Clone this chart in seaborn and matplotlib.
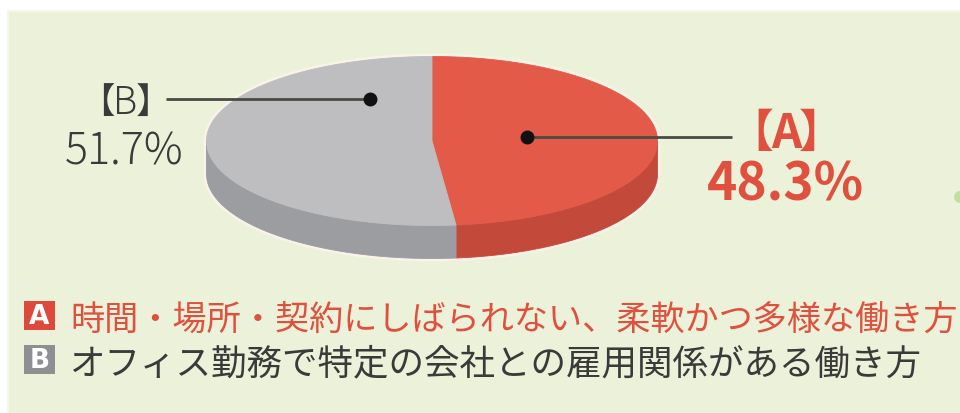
import numpy as np
import matplotlib
matplotlib.use("Agg")
import matplotlib.pyplot as plt
from matplotlib.patches import Polygon, Rectangle, Circle
import seaborn as sns

# --- data -------------------------------------------------------------
keys = ["A", "B"]
shares = [48.3, 51.7]
pct_labels = ["48.3%", "51.7%"]
legend_texts = [
    "時間・場所・契約にしばられない、柔軟かつ多様な働き方",
    "オフィス勤務で特定の会社との雇用関係がある働き方",
]
top_colors = ["#E35A48", "#BEBEC0"]
side_colors = ["#C3493A", "#9C9DA0"]
text_colors = ["#E0503F", "#3A3A3A"]
box_colors = ["#DD4A3C", "#8E8F93"]

sns.set_theme(style="white")
plt.rcParams["font.family"] = ["Noto Sans CJK JP", "DejaVu Sans"]

W, H = 960, 414
fig = plt.figure(figsize=(W / 100, H / 100), dpi=100)
fig.patch.set_facecolor("white")
ax = fig.add_axes([0, 0, 1, 1])
ax.set_xlim(0, W)
ax.set_ylim(H, 0)
ax.axis("off")

# panel background
ax.add_patch(Rectangle((8, 12), W, H, facecolor="#ECF2DA", edgecolor="#F4F8E8", lw=1.5, zorder=0))

# --- 3D-looking elliptical pie ------------------------------------------
cx, cy, rx, ry, depth = 432, 142, 225.5, 84.5, 33


def rim(t_deg, drop=0.0):
    t = np.radians(t_deg)
    return np.column_stack([cx + rx * np.cos(t), cy - ry * np.sin(t) + drop])


total = sum(shares)
spans = []
start = 90.0
for v in shares:
    sweep = 360.0 * v / total
    spans.append((start - sweep, start))
    start -= sweep

# soft light halo around the whole solid
outline = np.vstack([rim(np.linspace(0, 180, 200)), rim(np.linspace(180, 360, 200), depth)])
ax.add_patch(Polygon(outline, closed=True, facecolor="none", edgecolor="#FBF3EA", lw=4, zorder=1))

# side walls (visible front half: angles between -180 and 0)
for (lo, hi), col in zip(spans, side_colors):
    s_lo, s_hi = max(lo, -180.0), min(hi, 0.0)
    if s_hi <= s_lo:
        continue
    ts = np.linspace(s_lo, s_hi, 150)
    wall = np.vstack([rim(ts), rim(ts[::-1], depth)])
    ax.add_patch(Polygon(wall, closed=True, facecolor=col, edgecolor=col, lw=0.6, zorder=2))

# top faces
for (lo, hi), col in zip(spans, top_colors):
    ts = np.linspace(lo, hi, 300)
    face = np.vstack([[cx, cy], rim(ts)])
    ax.add_patch(Polygon(face, closed=True, facecolor=col, edgecolor=col, lw=0.6, zorder=3))

# --- leader lines and dots ----------------------------------------------
leaders = {
    "A": ((527, 138), (732, 138)),
    "B": ((370, 100), (166, 100)),
}
for k in keys:
    (x0, y0), (x1, y1) = leaders[k]
    ax.plot([x0, x1], [y0, y1], color="#4A4A45", lw=2, solid_capstyle="butt", zorder=4)
    ax.plot([x0], [y0], marker="o", ms=9, color="#111111", mec="#111111", zorder=5)


def bracket_label(xc, y, letter, size, color, weight, gap):
    px = size * 100 / 72
    half = 0.31 * px
    ax.text(xc, y, letter, ha="center", va="center", fontsize=size, color=color,
            fontweight=weight, zorder=6)
    ax.text(xc - half - gap, y, "【", ha="right", va="center", fontsize=size * 0.95,
            color=color, fontweight=weight, zorder=6)
    ax.text(xc + half + gap, y, "】", ha="left", va="center", fontsize=size * 0.95,
            color=color, fontweight=weight, zorder=6)


bracket_label(786, 134, keys[0], 34, text_colors[0], "bold", -2)
ax.text(785, 185, pct_labels[0], ha="center", va="center", fontsize=37,
        color=text_colors[0], fontweight="bold", zorder=6)

bracket_label(125, 103, keys[1], 27, text_colors[1], "light", -1)
ax.text(124, 152, pct_labels[1], ha="center", va="center", fontsize=31,
        color=text_colors[1], fontweight="light", zorder=6)

# --- legend -------------------------------------------------------------
row_sizes = [24.6, 25.6]
rows_y = [316.5, 360.5]
for k, txt, tcol, bcol, yc, fs in zip(keys, legend_texts, text_colors, box_colors, rows_y, row_sizes):
    em = fs * 100 / 72
    ax.add_patch(Rectangle((24, yc - 14.5), 31, 29, facecolor=bcol, edgecolor="none", zorder=6))
    ax.text(39.5, yc + 1, k, ha="center", va="center", fontsize=19, color="white",
            fontweight="bold", family="DejaVu Sans", zorder=7)
    ax.text(70, yc + 0.38 * em, txt, ha="left", va="baseline", fontsize=fs, color=tcol, zorder=7)

# small green mark peeking in at the right edge
ax.add_patch(Circle((960, 198), 6, facecolor="#B9DB92", edgecolor="none", alpha=0.8, zorder=1))

fig.savefig("out.png", dpi=100, facecolor=fig.get_facecolor())
